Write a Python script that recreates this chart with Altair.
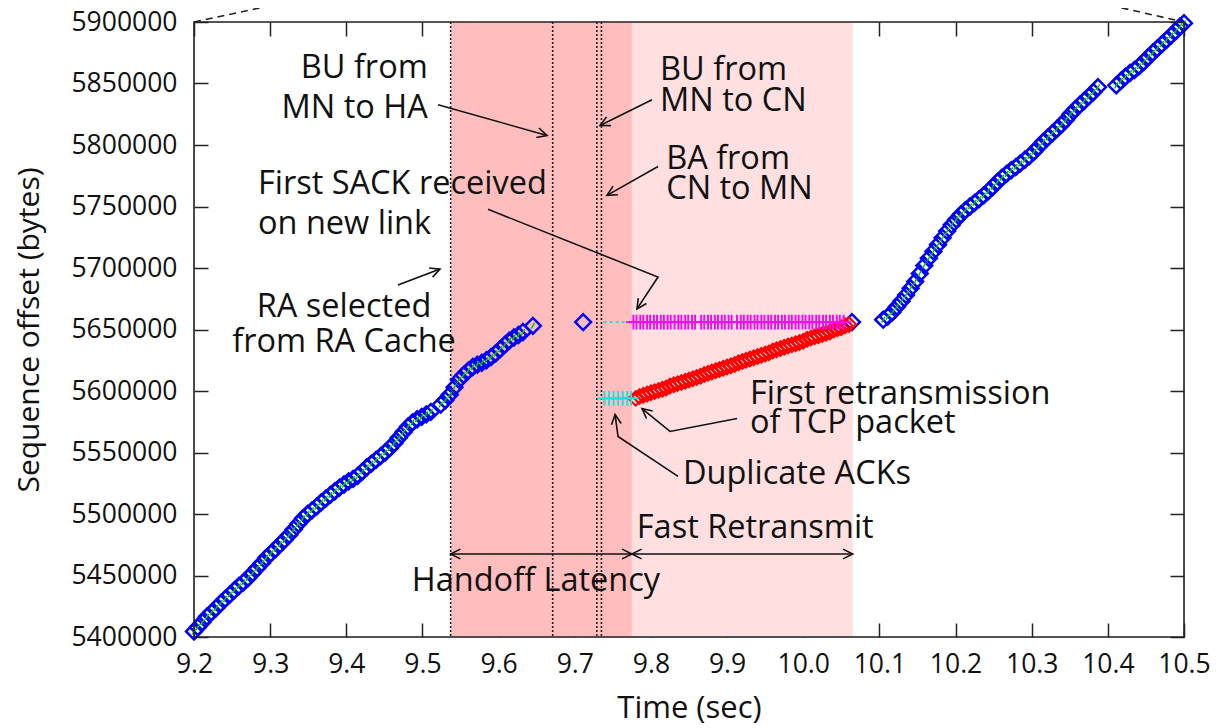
import math
import altair as alt
import pandas as pd

W, H = 990, 615
X_DOM = [9.2, 10.5]
Y_DOM = [5400000, 5900000]
FONT = "Open Sans"

# ---------------- data ----------------
blue1_t = [9.200, 9.205, 9.211, 9.217, 9.223, 9.229, 9.235, 9.241, 9.247, 9.253, 9.259, 9.265,
           9.271, 9.277, 9.283, 9.289, 9.295, 9.301, 9.307, 9.313, 9.319, 9.325, 9.331, 9.337,
           9.343, 9.349, 9.355, 9.361, 9.367, 9.373, 9.379, 9.385, 9.391, 9.397, 9.403, 9.409,
           9.415, 9.421, 9.427, 9.433, 9.439, 9.445, 9.451, 9.457, 9.463, 9.469, 9.475, 9.481,
           9.487, 9.493, 9.499, 9.505, 9.511, 9.524, 9.530, 9.536, 9.542, 9.548, 9.554, 9.560,
           9.566, 9.572, 9.578, 9.584, 9.590, 9.596, 9.602, 9.608, 9.614, 9.620, 9.626, 9.632,
           9.645]
blue1_s = [5404500, 5408000, 5412000, 5416500, 5420000, 5423500, 5427500, 5431000, 5434500,
           5438000, 5441500, 5444500, 5448000, 5452000, 5456000, 5460000, 5464500, 5468000,
           5471500, 5475500, 5479000, 5483000, 5487500, 5492000, 5496500, 5500000, 5503000,
           5506000, 5509500, 5512500, 5515500, 5518500, 5521500, 5524000, 5526500, 5528500,
           5531000, 5534500, 5538000, 5541000, 5544000, 5547000, 5550000, 5553500, 5557500,
           5562000, 5566500, 5571000, 5574500, 5577000, 5579000, 5581000, 5583000, 5589000,
           5592500, 5597000, 5603000, 5609000, 5613000, 5616500, 5619500, 5621500, 5623000,
           5625000, 5627500, 5630500, 5634000, 5637500, 5641000, 5643500, 5645500, 5648000,
           5653000]
blue2_t = [10.105, 10.111, 10.117, 10.123, 10.129, 10.135, 10.141, 10.147, 10.153, 10.159,
           10.165, 10.171, 10.177, 10.183, 10.189, 10.195, 10.201, 10.207, 10.213, 10.219,
           10.225, 10.231, 10.237, 10.243, 10.249, 10.255, 10.261, 10.267, 10.273, 10.279,
           10.285, 10.291, 10.297, 10.303, 10.309, 10.315, 10.321, 10.327, 10.333, 10.339,
           10.345, 10.351, 10.357, 10.363, 10.369, 10.375, 10.381, 10.387, 10.411, 10.417,
           10.423, 10.429, 10.435, 10.441, 10.447, 10.453, 10.459, 10.465, 10.471, 10.477,
           10.483, 10.489, 10.495, 10.500]
blue2_s = [5658000, 5660500, 5664000, 5668500, 5673000, 5678000, 5683500, 5689000, 5695500,
           5702000, 5708000, 5713500, 5719000, 5724500, 5730000, 5735000, 5739500, 5743500,
           5747000, 5750000, 5753000, 5756000, 5759000, 5762500, 5766000, 5770000, 5773500,
           5776500, 5779500, 5782000, 5785000, 5788000, 5791000, 5794500, 5798500, 5802500,
           5806000, 5809500, 5813000, 5816500, 5820500, 5825000, 5829000, 5832500, 5836000,
           5839500, 5843000, 5847000, 5848500, 5852000, 5855500, 5858500, 5861000, 5864000,
           5867500, 5871500, 5875000, 5878500, 5882000, 5885500, 5889000, 5892500, 5896500,
           5899000]
blue_extra_t = [9.711, 10.064]
blue_extra_s = [5656000, 5656000]

red_t = [9.780, 9.785, 9.790, 9.795, 9.800, 9.805, 9.810, 9.815, 9.820, 9.825, 9.830, 9.835,
         9.840, 9.845, 9.850, 9.855, 9.860, 9.865, 9.870, 9.875, 9.880, 9.885, 9.890, 9.895,
         9.900, 9.905, 9.910, 9.915, 9.920, 9.925, 9.930, 9.935, 9.940, 9.945, 9.950, 9.955,
         9.960, 9.965, 9.970, 9.975, 9.980, 9.985, 9.990, 9.995, 10.000, 10.005, 10.010,
         10.015, 10.020, 10.025, 10.030, 10.035, 10.040, 10.045, 10.050, 10.055, 10.060]
red_s = [5594000, 5595500, 5596500, 5597500, 5598500, 5599500, 5600500, 5601500, 5602500,
         5604000, 5605000, 5606000, 5607000, 5608000, 5609000, 5610000, 5611000, 5612000,
         5613500, 5614500, 5615500, 5616500, 5617500, 5618500, 5619500, 5620500, 5621500,
         5623000, 5624000, 5625000, 5626000, 5627000, 5628000, 5629000, 5630000, 5631000,
         5632500, 5633500, 5634500, 5635500, 5636500, 5637500, 5638500, 5639500, 5640500,
         5642000, 5643000, 5644000, 5645000, 5646000, 5647000, 5648000, 5649500, 5650500,
         5651500, 5653000, 5654000]

sack_t = [9.777, 9.781, 9.786, 9.790, 9.795, 9.799, 9.804, 9.808, 9.813, 9.817, 9.822, 9.826,
          9.831, 9.836, 9.840, 9.845, 9.849, 9.854, 9.858, 9.866, 9.870, 9.875, 9.879, 9.884,
          9.888, 9.893, 9.897, 9.902, 9.906, 9.913, 9.918, 9.922, 9.927, 9.931, 9.936, 9.940,
          9.945, 9.949, 9.954, 9.958, 9.963, 9.967, 9.972, 9.976, 9.981, 9.985, 9.990, 9.994,
          9.999, 10.003, 10.008, 10.012, 10.017, 10.021, 10.026, 10.030, 10.035, 10.039,
          10.044, 10.048, 10.053]
sack_seq = 5656000

dup_t = [9.739, 9.745, 9.751, 9.757, 9.763, 9.769, 9.774]
dup_seq = 5594000

cyan_line_t = [9.738, 9.776]
cyan_line_s = [5656000, 5656000]

handoff_span = [9.537, 9.775]
fastrx_span = [9.775, 10.065]
event_lines = [9.537, 9.671, 9.729, 9.735]

zoom_line_id = ["l", "l", "r", "r"]
zoom_line_t = [9.2, 9.287, 10.5, 10.418]
zoom_line_s = [5900000, 5911500, 5900000, 5911500]

x_ticks = [9.2, 9.3, 9.4, 9.5, 9.6, 9.7, 9.8, 9.9, 10.0, 10.1, 10.2, 10.3, 10.4, 10.5]
y_ticks = [5400000, 5450000, 5500000, 5550000, 5600000, 5650000, 5700000, 5750000,
           5800000, 5850000, 5900000]

# annotation texts
txt_left = ["BU from", "MN to CN", "BA from", "CN to MN", "First SACK received", "on new link",
            "First retransmission", "of TCP packet", "Duplicate ACKs"]
txt_left_t = [9.812, 9.812, 9.820, 9.820, 9.284, 9.284, 9.930, 9.930, 9.842]
txt_left_s = [5853000, 5827900, 5780100, 5755800, 5759900, 5727500, 5589800, 5565500, 5524200]
txt_right = ["BU from", "MN to HA"]
txt_right_t = [9.507, 9.507]
txt_right_s = [5854600, 5822200]
txt_center = ["RA selected", "from RA Cache", "Fast Retransmit", "Handoff Latency"]
txt_center_t = [9.397, 9.397, 9.937, 9.649]
txt_center_s = [5660200, 5631900, 5480400, 5437500]

# arrows: polylines, head at the last point (both ends for double-headed)
arrow_ids = ["a1", "a1", "a2", "a2", "a3", "a3", "a4", "a4", "a4", "a5", "a5",
             "a6", "a6", "a6", "a7", "a7", "a7", "a8", "a8", "a9", "a9"]
arrow_t = [9.5204, 9.6636, 9.8014, 9.7332, 9.8093, 9.7423, 9.5861, 9.8093, 9.7817,
           9.4679, 9.5230, 9.9131, 9.8251, 9.7883, 9.8356, 9.7568, 9.7529,
           9.537, 9.775, 9.775, 10.065]
arrow_s = [5832800, 5807700, 5836800, 5815800, 5782550, 5759060, 5747720, 5692640, 5666720,
           5686160, 5699120, 5577620, 5567090, 5585720, 5530640, 5563040, 5580860,
           5467460, 5467460, 5467460, 5467460]
double_headed = ["a8", "a9"]

# ---------------- frames ----------------
blue1 = pd.DataFrame({"x": blue1_t, "y": blue1_s})
blue2 = pd.DataFrame({"x": blue2_t, "y": blue2_s})
blue = pd.concat([blue1, blue2, pd.DataFrame({"x": blue_extra_t, "y": blue_extra_s})])
red = pd.DataFrame({"x": red_t, "y": red_s})
sack = pd.DataFrame({"x": sack_t, "y": [sack_seq] * len(sack_t)})
dup = pd.DataFrame({"x": dup_t, "y": [dup_seq] * len(dup_t)})
cyan_line = pd.DataFrame({"x": cyan_line_t, "y": cyan_line_s})
spans = pd.DataFrame({"x": [handoff_span[0], fastrx_span[0]], "x2": [handoff_span[1], fastrx_span[1]],
                      "y": [Y_DOM[0]] * 2, "y2": [Y_DOM[1]] * 2, "k": ["handoff", "fast"]})
vlines = pd.DataFrame({"x": event_lines})
zoomlines = pd.DataFrame({"id": zoom_line_id, "x": zoom_line_t, "y": zoom_line_s})
arrows = pd.DataFrame({"id": arrow_ids, "x": arrow_t, "y": arrow_s})
arrows["ord"] = range(len(arrows))

px_x = W / (X_DOM[1] - X_DOM[0])
px_y = H / (Y_DOM[1] - Y_DOM[0])


def head(p_from, p_to):
    dx = (p_to[0] - p_from[0]) * px_x
    dy = -(p_to[1] - p_from[1]) * px_y
    ang = math.degrees(math.atan2(dy, dx)) % 360
    return {"x": p_to[0], "y": p_to[1], "angle": ang}


heads = []
for aid, g in arrows.groupby("id", sort=False):
    pts = list(zip(g["x"], g["y"]))
    heads.append(head(pts[-2], pts[-1]))
    if aid in double_headed:
        heads.append(head(pts[1], pts[0]))
heads = pd.DataFrame(heads)

tl = pd.DataFrame({"x": txt_left_t, "y": txt_left_s, "text": txt_left})
tr = pd.DataFrame({"x": txt_right_t, "y": txt_right_s, "text": txt_right})
tc = pd.DataFrame({"x": txt_center_t, "y": txt_center_s, "text": txt_center})

# ---------------- encodings ----------------
xs = alt.Scale(domain=X_DOM, nice=False, zero=False)
ys = alt.Scale(domain=Y_DOM, nice=False, zero=False)


def X(field="x", axis=None):
    return alt.X(f"{field}:Q", scale=xs, axis=axis, title="Time (sec)")


def Y(field="y", axis=None):
    return alt.Y(f"{field}:Q", scale=ys, axis=axis, title="Sequence offset (bytes)")


bottom_axis = alt.Axis(orient="bottom", values=x_ticks, format=".1f", offset=-14, tickSize=14,
                       tickWidth=1.5, tickColor="#222", domain=False, grid=False,
                       labelFont=FONT, labelFontSize=26.5, labelColor="#111", labelPadding=14,
                       labelFlush=False, title="Time (sec)", titleFont=FONT, titleFontSize=31,
                       titleFontWeight="normal", titleColor="#111", titlePadding=16)
left_axis = alt.Axis(orient="left", values=y_ticks, format="d", offset=-14, tickSize=14,
                     tickWidth=1.5, tickColor="#222", domain=False, grid=False,
                     labelFont=FONT, labelFontSize=26.5, labelColor="#111", labelPadding=17,
                     labelFlush=False, title="Sequence offset (bytes)", titleFont=FONT,
                     titleFontSize=30, titleFontWeight="normal", titleColor="#111",
                     titlePadding=26)
top_axis = alt.Axis(orient="top", values=x_ticks, offset=-14, tickSize=14, tickWidth=1.5,
                    tickColor="#222", domain=False, grid=False, labels=False, title="")
right_axis = alt.Axis(orient="right", values=y_ticks, offset=-14, tickSize=14, tickWidth=1.5,
                      tickColor="#222", domain=False, grid=False, labels=False, title="")

shade = alt.Chart(spans).mark_rect(opacity=1).encode(
    x=X("x", bottom_axis), x2="x2", y=Y("y", left_axis), y2="y2",
    color=alt.Color("k:N", scale=alt.Scale(domain=["handoff", "fast"],
                                           range=["#ffbdbd", "#ffdfdf"]), legend=None))

ticks_tr = alt.Chart(spans).mark_rect(opacity=0).encode(
    x=X("x", top_axis), x2="x2", y=Y("y", right_axis), y2="y2")

vl = alt.Chart(vlines).mark_rule(color="#222", strokeWidth=1.6, strokeDash=[2, 2]).encode(x=X())

zl = alt.Chart(zoomlines).mark_line(color="#222", strokeWidth=1.6, strokeDash=[7, 5],
                                    clip=False).encode(x=X(), y=Y(), detail="id:N")

cyl = alt.Chart(cyan_line).mark_line(color="#22dddd", strokeWidth=1.6,
                                     strokeDash=[3, 3]).encode(x=X(), y=Y())

blue_pts = alt.Chart(blue).mark_point(shape="diamond", size=250, filled=False, color="#0000ff",
                                      strokeWidth=2.5, opacity=1).encode(x=X(), y=Y())
green_ack = alt.Chart(pd.concat([blue1, blue2])).mark_point(
    shape="M-0.4,0.7L0.4,-0.7", size=70, filled=False, color="#00c800", strokeWidth=1.5,
    opacity=1).encode(x=X(), y=Y())
red_pts = alt.Chart(red).mark_point(shape="diamond", size=210, filled=False, color="#ff0000",
                                    strokeWidth=2.1, opacity=1).encode(x=X(), y=Y())
plus = "M-1,0L1,0M0,-1L0,1"
sack_pts = alt.Chart(sack).mark_point(shape=plus, size=220, filled=False, color="#ff00ff",
                                      strokeWidth=1.9, opacity=1).encode(x=X(), y=Y())
dup_pts = alt.Chart(dup).mark_point(shape=plus, size=220, filled=False, color="#22dddd",
                                    strokeWidth=1.9, opacity=1).encode(x=X(), y=Y())

arrow_lines = alt.Chart(arrows).mark_line(color="#111", strokeWidth=1.6, clip=False).encode(
    x=X(), y=Y(), detail="id:N", order="ord:Q")
arrow_heads = alt.Chart(heads).mark_point(shape="M-1,-0.5L0,0L-1,0.5", size=380, filled=False,
                                          color="#111", strokeWidth=1.6, opacity=1).encode(
    x=X(), y=Y(), angle=alt.Angle("angle:Q", scale=None))


def texts(df, align):
    return alt.Chart(df).mark_text(align=align, baseline="alphabetic", font=FONT, fontSize=32.5,
                                   color="#111").encode(x=X(), y=Y(), text="text:N")


frame = alt.Chart(pd.DataFrame({"x": [X_DOM[0]], "x2": [X_DOM[1]], "y": [Y_DOM[0]],
                                "y2": [Y_DOM[1]]})).mark_rect(
    filled=False, stroke="#222", strokeWidth=1.6).encode(x=X(), x2="x2", y=Y(), y2="y2")

chart = alt.layer(
    shade, ticks_tr, vl, zl, cyl, blue_pts, green_ack, red_pts, sack_pts, dup_pts,
    arrow_lines, arrow_heads, texts(tl, "left"), texts(tr, "right"), texts(tc, "center"), frame
).resolve_axis(x="independent", y="independent").properties(
    width=W, height=H,
    autosize=alt.AutoSizeParams(type="none"),
    padding={"left": 186, "top": 14, "right": 30, "bottom": 90},
).configure_view(stroke=None).configure(background="white")

chart.save("out.html", embed_options={"renderer": "svg", "actions": False})
